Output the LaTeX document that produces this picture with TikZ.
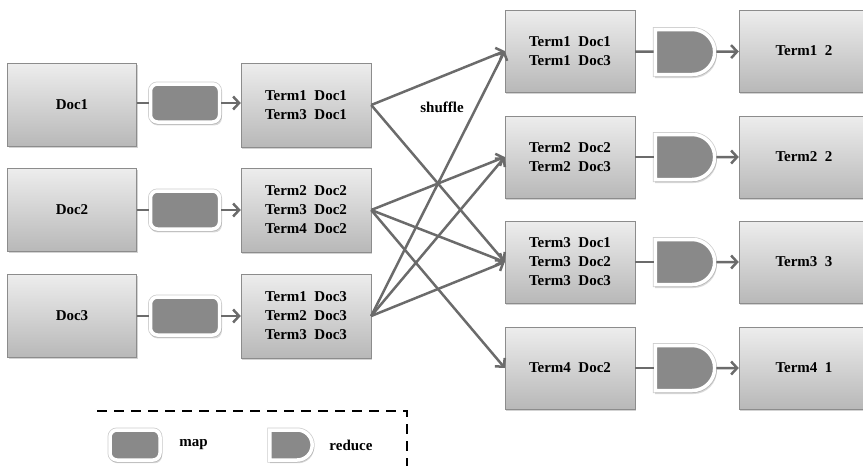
\documentclass[tikz,border=0pt]{standalone}
\usepackage{fontspec}
\setmainfont{Liberation Serif}
\usetikzlibrary{arrows.meta,shapes.misc,shadows,positioning}
\definecolor{boxtop}{HTML}{EDEDED}
\definecolor{boxbottom}{HTML}{B8B8B8}
\definecolor{boxline}{HTML}{8C8C8C}
\definecolor{shapegray}{HTML}{898989}
\definecolor{linegray}{HTML}{6B6B6B}
\begin{document}
\begin{tikzpicture}[x=1pt,y=-1pt,
	every node/.style={font=\fontsize{15}{19}\selectfont\bfseries,align=center},
	box/.style={draw=boxline,top color=boxtop,bottom color=boxbottom,minimum width=129pt,minimum height=83pt,
		drop shadow={shadow xshift=1pt,shadow yshift=-1.5pt,opacity=.35}},
	framed/.style={preaction={draw=gray!40,line width=5pt},draw=white,line width=3.5pt,fill=shapegray,
		drop shadow={shadow xshift=1pt,shadow yshift=-2.5pt,opacity=.3,shadow scale=1.04}},
	mapper/.style={framed,rectangle,rounded corners=7pt,minimum width=69pt,minimum height=38pt},
	reducer/.style={framed,rounded rectangle,rounded rectangle left arc=none,minimum width=66pt,minimum height=45pt},
	link/.style={draw=linegray,line width=2.5pt},
	flow/.style={link,-{Straight Barb[length=6pt,width=13pt]}}]
	\useasboundingbox (0,0) rectangle (863,466);
	% map side
	\node[box] (Doc1) at (72,105) {Doc1};
	\node[box] (Doc2) at (72,210) {Doc2};
	\node[box] (Doc3) at (72,316) {Doc3};
	\node[mapper] (Map1) at (185,103) {};
	\node[mapper] (Map2) at (185,210) {};
	\node[mapper] (Map3) at (185,316) {};
	\node[box,minimum width=130pt,minimum height=84pt] (Pairs1) at (306,105) {Term1~~Doc1\\Term3~~Doc1};
	\node[box,minimum width=130pt,minimum height=84pt] (Pairs2) at (306,210) {Term2~~Doc2\\Term3~~Doc2\\Term4~~Doc2};
	\node[box,minimum width=130pt,minimum height=84pt] (Pairs3) at (306,316) {Term1~~Doc3\\Term2~~Doc3\\Term3~~Doc3};
	\draw[link] (Doc1.east |- Map1) -- (Map1);
	\draw[link] (Doc2) -- (Map2);
	\draw[link] (Doc3) -- (Map3);
	\draw[flow] (Map1) -- (Map1 -| Pairs1.west);
	\draw[flow] (Map2) -- (Pairs2);
	\draw[flow] (Map3) -- (Pairs3);
	% reduce side
	\node[box,minimum width=130pt,minimum height=82pt] (Group1) at (570,51) {Term1~~Doc1\\Term1~~Doc3};
	\node[box,minimum width=130pt,minimum height=82pt] (Group2) at (570,157) {Term2~~Doc2\\Term2~~Doc3};
	\node[box,minimum width=130pt,minimum height=82pt] (Group3) at (570,262) {Term3~~Doc1\\Term3~~Doc2\\Term3~~Doc3};
	\node[box,minimum width=130pt,minimum height=82pt] (Group4) at (570,368) {Term4~~Doc2};
	\node[reducer] (Reduce1) at (685,52) {};
	\node[reducer] (Reduce2) at (685,157) {};
	\node[reducer] (Reduce3) at (685,262) {};
	\node[reducer] (Reduce4) at (685,368) {};
	\node[box,minimum width=130pt,minimum height=82pt] (Count1) at (804,51) {Term1~~2};
	\node[box,minimum width=130pt,minimum height=82pt] (Count2) at (804,157) {Term2~~2};
	\node[box,minimum width=130pt,minimum height=82pt] (Count3) at (804,262) {Term3~~3};
	\node[box,minimum width=130pt,minimum height=82pt] (Count4) at (804,368) {Term4~~1};
	\draw[link] (Group1) -- (Reduce1);
	\draw[link] (Group2) -- (Reduce2);
	\draw[link] (Group3) -- (Reduce3);
	\draw[link] (Group4) -- (Reduce4);
	\draw[flow] (Reduce1) -- (Count1);
	\draw[flow] (Reduce2) -- (Count2);
	\draw[flow] (Reduce3) -- (Count3);
	\draw[flow] (Reduce4) -- (Count4);
	% shuffle
	\draw[flow] (Pairs1.east) -- (Group1.west);
	\draw[flow] (Pairs1.east) -- (Group3.west);
	\draw[flow] (Pairs2.east) -- (Group2.west);
	\draw[flow] (Pairs2.east) -- (Group3.west);
	\draw[flow] (Pairs2.east) -- (Group4.west);
	\draw[flow] (Pairs3.east) -- (Group1.west);
	\draw[flow] (Pairs3.east) -- (Group2.west);
	\draw[flow] (Pairs3.east) -- (Group3.west);
	\node (Shuffle) at (442,107) {shuffle};
	% legend
	\draw[line width=2.5pt,dash pattern=on 10pt off 7pt] (97,411) -| (407,470);
	\node[mapper,minimum width=50pt,minimum height=30pt] (MapKey) at (135,445) {};
	\node[right=14pt of MapKey] (MapText) {map};
	\node[reducer,minimum width=49pt,minimum height=30pt] (ReduceKey) at (291,445) {};
	\node[right=12pt of ReduceKey] (ReduceText) {reduce};
\end{tikzpicture}
\end{document}
